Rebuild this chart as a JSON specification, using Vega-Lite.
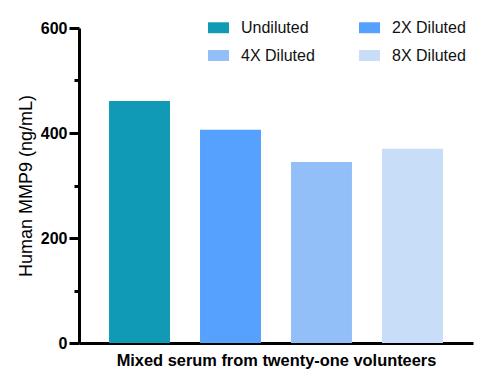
{
  "$schema": "https://vega.github.io/schema/vega-lite/v6.json",
  "width": 394,
  "height": 315,
  "autosize": "none",
  "padding": {"left": 79, "top": 28, "right": 9, "bottom": 41},
  "background": "white",
  "config": {
    "view": {"stroke": null},
    "font": "Liberation Sans"
  },
  "data": {
    "values": [
      {"group": "Mixed serum from twenty-one volunteers", "dilution": "Undiluted", "value": 461},
      {"group": "Mixed serum from twenty-one volunteers", "dilution": "2X Diluted", "value": 406},
      {"group": "Mixed serum from twenty-one volunteers", "dilution": "4X Diluted", "value": 345},
      {"group": "Mixed serum from twenty-one volunteers", "dilution": "8X Diluted", "value": 370}
    ]
  },
  "mark": {"type": "bar"},
  "encoding": {
    "x": {
      "field": "dilution",
      "type": "nominal",
      "sort": ["Undiluted", "2X Diluted", "4X Diluted", "8X Diluted"],
      "scale": {"paddingInner": 0.33, "paddingOuter": 0.33},
      "axis": {
        "title": "Mixed serum from twenty-one volunteers",
        "titleFontSize": 16.4,
        "titleFontWeight": "bold",
        "titleColor": "#000",
        "titlePadding": 9,
        "labels": false,
        "ticks": false,
        "domainColor": "#000",
        "domainWidth": 3
      }
    },
    "y": {
      "field": "value",
      "type": "quantitative",
      "scale": {"domain": [0, 600], "nice": false},
      "axis": {
        "title": "Human MMP9 (ng/mL)",
        "titleFontSize": 18,
        "titleFontWeight": "normal",
        "titleColor": "#000",
        "titlePadding": 5,
        "values": [0, 100, 200, 300, 400, 500, 600],
        "labelExpr": "datum.value % 200 === 0 ? datum.label : ''",
        "labelFontSize": 16,
        "labelFontWeight": "bold",
        "labelColor": "#000",
        "labelPadding": 2,
        "grid": false,
        "domainColor": "#000",
        "domainWidth": 3,
        "tickColor": "#000",
        "tickWidth": 3,
        "tickSize": {"condition": {"test": "datum.value % 200 === 0", "value": 10}, "value": 5}
      }
    },
    "color": {
      "field": "dilution",
      "type": "nominal",
      "sort": ["Undiluted", "2X Diluted", "4X Diluted", "8X Diluted"],
      "scale": {
        "domain": ["Undiluted", "2X Diluted", "4X Diluted", "8X Diluted"],
        "range": ["#119AB5", "#56A1FD", "#93BFF9", "#C8DDF8"]
      },
      "legend": {
        "title": null,
        "orient": "none",
        "direction": "horizontal",
        "legendX": 129,
        "legendY": -11,
        "columns": 2,
        "columnPadding": 44,
        "rowPadding": 9,
        "padding": 0,
        "symbolType": "M-1,-0.52H1V0.52H-1Z",
        "symbolSize": 441,
        "symbolStrokeWidth": 0,
        "symbolOpacity": 1,
        "labelFontSize": 16,
        "labelColor": "#111",
        "labelOffset": 12
      }
    }
  }
}
